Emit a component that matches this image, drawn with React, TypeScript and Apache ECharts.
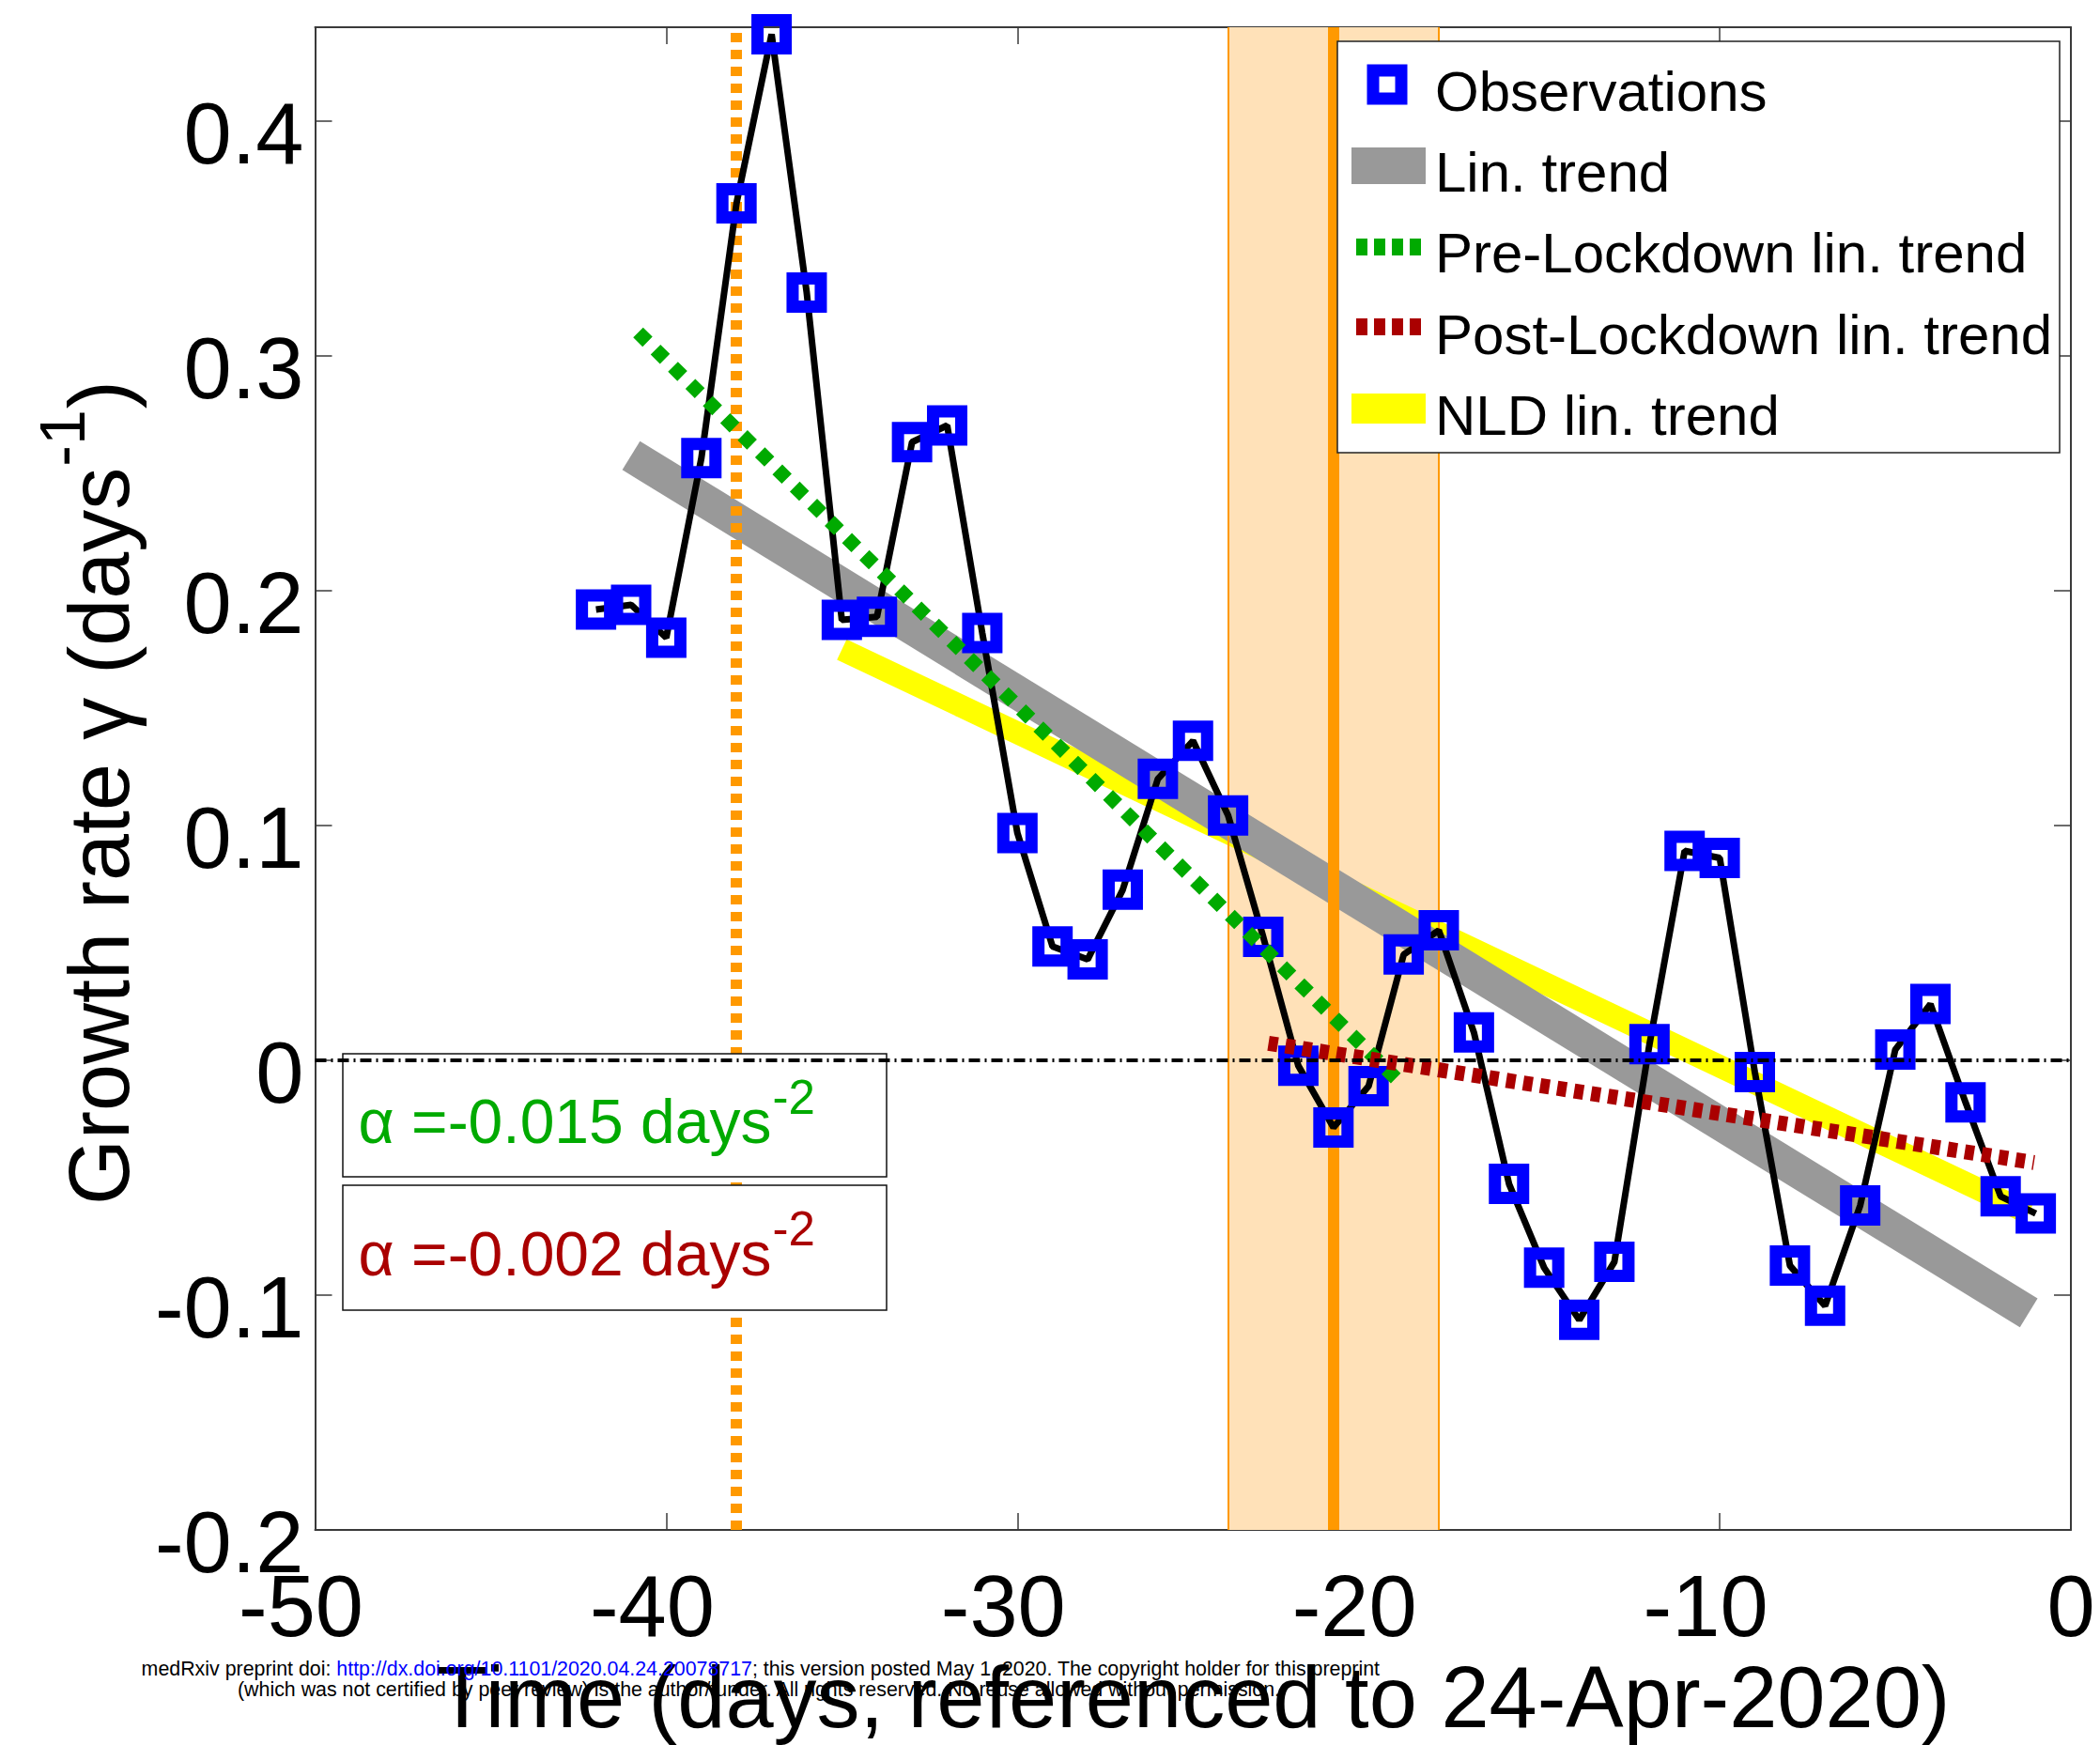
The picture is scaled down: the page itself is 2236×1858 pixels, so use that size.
import React, { useEffect, useRef } from 'react';
import * as echarts from 'echarts';

// ---------------- data ----------------
const days = [-42, -41, -40, -39, -38, -37, -36, -35, -34, -33, -32, -31, -30, -29, -28, -27, -26, -25, -24, -23, -22, -21, -20, -19, -18, -17, -16, -15, -14, -13, -12, -11, -10, -9, -8, -7, -6, -5, -4, -3, -2, -1];
const growthRate = [0.192, 0.194, 0.18, 0.2565, 0.365, 0.437, 0.327, 0.1876, 0.1889, 0.2633, 0.2704, 0.182, 0.0968, 0.0485, 0.043, 0.0727, 0.1199, 0.1361, 0.1043, 0.0526, -0.0023, -0.0286, -0.011, 0.0451, 0.0554, 0.0119, -0.0526, -0.0883, -0.1105, -0.0858, 0.0069, 0.0892, 0.0862, -0.005, -0.0874, -0.1045, -0.0618, 0.0046, 0.024, -0.0179, -0.0579, -0.0652];

const linTrendDays = [-41, -1.2];
const linTrendRate = [0.2576, -0.1075];
const nldTrendDays = [-35, -1.2];
const nldTrendRate = [0.175, -0.065];
const preLockdownDays = [-40.8, -19.2];
const preLockdownRate = [0.31, -0.008];
const postLockdownDays = [-22.85, -1.05];
const postLockdownRate = [0.0073, -0.0435];
const zeroLineDays = [-50, 0];
const zeroLineRate = [0, 0];

const lockdownWindow = [-24, -18];
const lockdownDay = -21;
const earlyEventDay = -38;

const xTickValues = [-50, -40, -30, -20, -10, 0];
const xTickLabels = ['-50', '-40', '-30', '-20', '-10', '0'];
const yTickValues = [-0.2, -0.1, 0, 0.1, 0.2, 0.3, 0.4];
const yTickLabels = ['-0.2', '-0.1', '0', '0.1', '0.2', '0.3', '0.4'];

const legendNames = ['Observations', 'Lin. trend', 'Pre-Lockdown lin. trend', 'Post-Lockdown lin. trend', 'NLD lin. trend'];
const alphaValues = ['-0.015', '-0.002'];

const xTitle = 'Time (days, referenced to 24-Apr-2020)';
const yTitleMain = 'Growth rate \u03b3 (days';
const yTitleSup = '-1';
const footerParts = ['medRxiv preprint doi: ', 'http://dx.doi.org/10.1101/2020.04.24.20078717', '; this version posted May 1, 2020. The copyright holder for this preprint'];
const footerLine2 = '(which was not certified by peer review) is the author/funder. All rights reserved. No reuse allowed without permission.';

// ---------------- styles ----------------
const FF = 'Liberation Sans';
const BLUE = '#0000FF';
const GRAY = '#999999';
const YELLOW = '#FFFF00';
const GREEN = '#00AA00';
const RED = '#AA0000';
const ORANGE = '#FF9900';
const PEACH = '#FFE1B8';
const AXIS = '#3a3a3a';

const zip = (xs: number[], ys: number[]) => xs.map((x, i) => [x, ys[i]]);

const ctx = typeof document !== 'undefined' ? document.createElement('canvas').getContext('2d') : null;
function tw(text: string, size: number): number {
  if (!ctx) return text.length * size * 0.5;
  ctx.font = `${size}px "${FF}"`;
  return ctx.measureText(text).width;
}

function buildOption() {
  const TICK = 92;
  const axisLineStyle = { color: AXIS, width: 2 };
  const tickStyle = { color: AXIS, width: 1.5 };

  const yLabelFmt = (v: number) => {
    const i = yTickValues.findIndex((t) => Math.abs(t - v) < 1e-9);
    return i >= 0 ? `{v|${yTickLabels[i]}}` : '';
  };
  const xLabelFmt = (v: number) => {
    const i = xTickValues.findIndex((t) => Math.abs(t - v) < 1e-9);
    const s = i >= 0 ? xTickLabels[i] : '';
    return s.startsWith('-') ? `{n|${s}}` : `{p|${s}}`;
  };

  // ---------- graphic: legend, annotation boxes, y title, footer ----------
  const elements: any[] = [];

  // legend
  const lgX = 1424, lgY = 44, lgW = 769, lgH = 438;
  elements.push({ type: 'rect', z: 20, shape: { x: lgX, y: lgY, width: lgW, height: lgH }, style: { fill: '#fff', stroke: '#222', lineWidth: 1.5 } });
  const rowY = [97, 183, 269, 356, 442];
  elements.push({ type: 'rect', z: 21, shape: { x: 1477 - 15, y: 90 - 15, width: 30, height: 30 }, style: { fill: 'none', stroke: BLUE, lineWidth: 13 } });
  elements.push({ type: 'rect', z: 21, shape: { x: 1439, y: 157, width: 79, height: 39 }, style: { fill: GRAY } });
  elements.push({ type: 'line', z: 21, shape: { x1: 1444, y1: 263, x2: 1518, y2: 263 }, style: { stroke: GREEN, lineWidth: 18, lineDash: [12, 7] } });
  elements.push({ type: 'line', z: 21, shape: { x1: 1444, y1: 348, x2: 1518, y2: 348 }, style: { stroke: RED, lineWidth: 18, lineDash: [12, 7] } });
  elements.push({ type: 'rect', z: 21, shape: { x: 1439, y: 419, width: 79, height: 32 }, style: { fill: YELLOW } });
  legendNames.forEach((n, i) => {
    elements.push({ type: 'text', z: 21, x: 1528, y: rowY[i], style: { text: n, fill: '#000', fontSize: 60, fontFamily: FF, align: 'left', verticalAlign: 'middle' } });
  });

  // annotation boxes
  const boxes = [
    { y: 1122, h: 131, color: GREEN, mid: 1194, sup: 1168 },
    { y: 1262, h: 133, color: RED, mid: 1335, sup: 1308 },
  ];
  boxes.forEach((b, i) => {
    elements.push({ type: 'rect', z: 8, shape: { x: 365, y: b.y, width: 579, height: b.h }, style: { fill: '#fff', stroke: '#111', lineWidth: 1.5 } });
    const main = `\u03b1 =${alphaValues[i]} days`;
    elements.push({ type: 'text', z: 9, x: 381.6, y: b.mid, style: { text: main, fill: b.color, fontSize: 66, fontFamily: FF, align: 'left', verticalAlign: 'middle' } });
    elements.push({ type: 'text', z: 9, x: 381.6 + tw(main, 66) + 1, y: b.sup, style: { text: '-2', fill: b.color, fontSize: 51, fontFamily: FF, align: 'left', verticalAlign: 'middle' } });
  });

  // y title (rotated)
  const yFs = 90, ySupFs = 68;
  const yStart = 1283;
  const wMain = tw(yTitleMain, yFs);
  const wSup = tw(yTitleSup, ySupFs);
  elements.push({ type: 'text', z: 20, x: 137 - 0.3465 * yFs, y: yStart, rotation: Math.PI / 2, style: { text: yTitleMain, fill: '#000', fontSize: yFs, fontFamily: FF, align: 'left', verticalAlign: 'middle' } });
  elements.push({ type: 'text', z: 20, x: 90 - 0.3465 * ySupFs, y: yStart - wMain - 1, rotation: Math.PI / 2, style: { text: yTitleSup, fill: '#000', fontSize: ySupFs, fontFamily: FF, align: 'left', verticalAlign: 'middle' } });
  elements.push({ type: 'text', z: 20, x: 137 - 0.3465 * yFs, y: yStart - wMain - wSup - 2, rotation: Math.PI / 2, style: { text: ')', fill: '#000', fontSize: yFs, fontFamily: FF, align: 'left', verticalAlign: 'middle' } });

  // footer
  const fullLine1 = footerParts.join('');
  const fFs = (18 * 1319) / tw(fullLine1, 18);
  const w1 = tw(fullLine1, fFs);
  let fx = 810 - w1 / 2;
  const fy1 = 1784 - 0.3465 * fFs;
  const fy2 = 1806 - 0.3465 * fFs;
  footerParts.forEach((p, i) => {
    elements.push({ type: 'text', z: 30, x: fx, y: fy1, style: { text: p, fill: i === 1 ? BLUE : '#000', fontSize: fFs, fontFamily: FF, align: 'left', verticalAlign: 'middle' } });
    fx += tw(p, fFs);
  });
  elements.push({ type: 'text', z: 30, x: 808, y: fy2, style: { text: footerLine2, fill: '#000', fontSize: fFs, fontFamily: FF, align: 'center', verticalAlign: 'middle' } });

  const lineSeries = (name: string, data: number[][], color: string, width: number, type: any, z: number) => ({
    name,
    type: 'line',
    data,
    symbol: 'none',
    z,
    silent: true,
    lineStyle: { color, width, type, cap: 'butt' },
    emphasis: { disabled: true },
  });

  return {
    animation: false,
    backgroundColor: '#ffffff',
    textStyle: { fontFamily: FF },
    grid: { left: 335.5, right: 31, top: 29, bottom: 222, containLabel: false },
    xAxis: [
      {
        type: 'value', position: 'bottom', min: -50, max: 0, interval: 10,
        axisLine: { show: true, onZero: false, lineStyle: axisLineStyle },
        axisTick: { show: true, inside: true, length: 18, lineStyle: tickStyle },
        axisLabel: {
          show: true, margin: 35, formatter: xLabelFmt,
          rich: {
            n: { fontSize: TICK, fontFamily: FF, color: '#000', lineHeight: TICK, padding: [0, 30, 0, 0] },
            p: { fontSize: TICK, fontFamily: FF, color: '#000', lineHeight: TICK },
          },
        },
        splitLine: { show: false },
        name: xTitle, nameLocation: 'middle', nameGap: 123,
        nameTextStyle: { fontSize: 92, fontFamily: FF, color: '#000', lineHeight: 92 },
      },
      {
        type: 'value', position: 'top', min: -50, max: 0, interval: 10,
        axisLine: { show: true, onZero: false, lineStyle: axisLineStyle },
        axisTick: { show: true, inside: true, length: 18, lineStyle: tickStyle },
        axisLabel: { show: false },
        splitLine: { show: false },
      },
    ],
    yAxis: [
      {
        type: 'value', position: 'left', min: -0.2, max: 0.44,
        axisLine: { show: true, onZero: false, lineStyle: axisLineStyle },
        axisTick: { show: true, inside: true, length: 18, lineStyle: tickStyle, customValues: yTickValues },
        axisLabel: {
          show: true, customValues: yTickValues, formatter: yLabelFmt, margin: 12,
          rich: {
            v: { fontSize: TICK, fontFamily: FF, color: '#000', lineHeight: TICK, padding: [26, 0, 0, 0] },
          },
        },
        splitLine: { show: false },
      },
      {
        type: 'value', position: 'right', min: -0.2, max: 0.44,
        axisLine: { show: true, onZero: false, lineStyle: axisLineStyle },
        axisTick: { show: true, inside: true, length: 18, lineStyle: tickStyle, customValues: yTickValues },
        axisLabel: { show: false },
        splitLine: { show: false },
      },
    ],
    series: [
      {
        name: 'Lockdown',
        type: 'line',
        data: [],
        silent: true,
        markArea: {
          silent: true, z: 1,
          itemStyle: { color: PEACH, borderWidth: 0 },
          label: { show: false },
          data: [[{ xAxis: lockdownWindow[0] }, { xAxis: lockdownWindow[1] }]],
        },
        markLine: {
          silent: true, z: 5, symbol: ['none', 'none'],
          label: { show: false },
          emphasis: { disabled: true },
          data: [
            { xAxis: lockdownWindow[0], lineStyle: { color: ORANGE, width: 2, type: 'solid' } },
            { xAxis: lockdownWindow[1], lineStyle: { color: ORANGE, width: 2, type: 'solid' } },
            { xAxis: lockdownDay, lineStyle: { color: ORANGE, width: 12, type: 'solid' } },
            { xAxis: earlyEventDay, lineStyle: { color: ORANGE, width: 12, type: [10, 8], cap: 'butt' } },
          ],
        },
      },
      lineSeries(legendNames[4], zip(nldTrendDays, nldTrendRate), YELLOW, 24, 'solid', 3),
      lineSeries(legendNames[1], zip(linTrendDays, linTrendRate), GRAY, 36, 'solid', 4),
      {
        name: legendNames[0],
        type: 'line',
        data: zip(days, growthRate),
        z: 6,
        silent: true,
        symbol: 'rect',
        symbolSize: 30,
        showAllSymbol: true,
        itemStyle: { color: 'rgba(0,0,0,0)', borderColor: BLUE, borderWidth: 13 },
        lineStyle: { color: '#000', width: 7 },
        emphasis: { disabled: true },
      },
      lineSeries(legendNames[2], zip(preLockdownDays, preLockdownRate), GREEN, 15, [14, 12], 7),
      lineSeries(legendNames[3], zip(postLockdownDays, postLockdownRate), RED, 16, [10, 8.3], 7),
      lineSeries('zero', zip(zeroLineDays, zeroLineRate), '#000', 4, [12, 5, 2, 5], 10),
    ],
    graphic: { elements },
  };
}

export default function App() {
  const ref = useRef<HTMLDivElement>(null);
  useEffect(() => {
    if (!ref.current) return;
    const chart = echarts.init(ref.current, null, { renderer: 'svg' });
    chart.setOption(buildOption() as any);
    return () => chart.dispose();
  }, []);
  return (
    <div
      ref={ref}
      style={{ position: 'fixed', left: 0, top: 0, width: 2236, height: 1858, background: '#fff' }}
    />
  );
}
